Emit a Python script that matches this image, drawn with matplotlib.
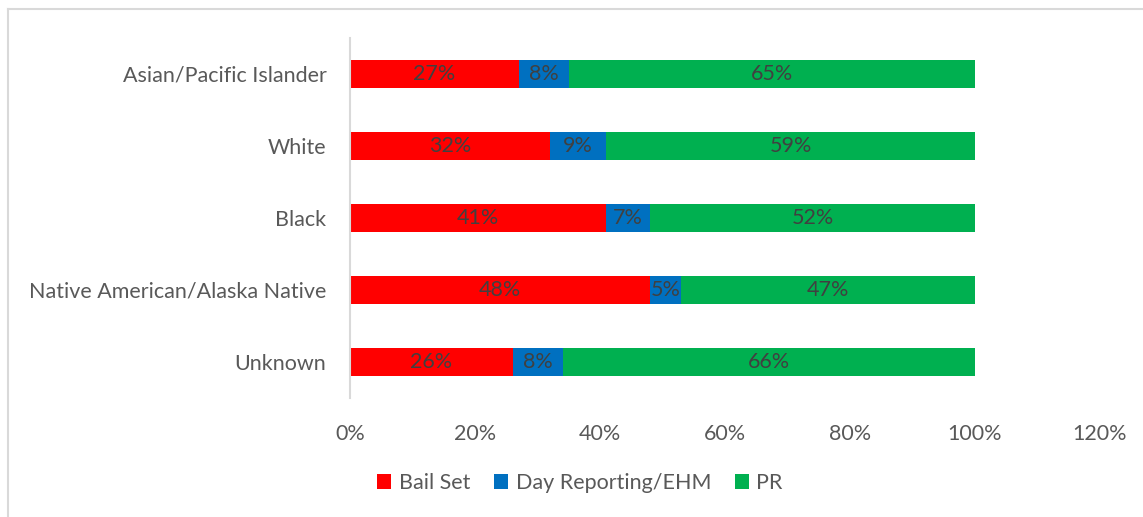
import matplotlib
matplotlib.use("Agg")
import matplotlib.pyplot as plt
from matplotlib.lines import Line2D
import numpy as np

categories = ["Asian/Pacific Islander", "White", "Black",
              "Native American/Alaska Native", "Unknown"]
bail_set = [27, 32, 41, 48, 26]
day_reporting = [8, 9, 7, 5, 8]
pr = [65, 59, 52, 47, 66]
series_names = ["Bail Set", "Day Reporting/EHM", "PR"]
colors = ["#FF0000", "#0070C0", "#00B050"]
x_ticks = [0, 20, 40, 60, 80, 100, 120]

plt.rcParams["font.family"] = ["Lato", "DejaVu Sans"]
FS = 15.5

fig = plt.figure(figsize=(11.43, 5.17), dpi=100)
W, H = 1143, 517
ax = fig.add_axes([350 / W, 1 - 398 / H, 750 / W, 360 / H])

y = np.arange(len(categories))[::-1]
left = np.zeros(len(categories))
for name, vals, col in zip(series_names, [bail_set, day_reporting, pr], colors):
    vals = np.array(vals, dtype=float)
    ax.barh(y, vals, left=left, height=0.39, color=col, label=name)
    for yi, l, v in zip(y, left, vals):
        ax.text(l + v / 2, yi, f"{v:.0f}%", ha="center", va="center",
                fontsize=FS, color="#404040")
    left += vals

ax.set_xlim(0, 120)
ax.set_ylim(-0.5, len(categories) - 0.5)
ax.set_yticks(y)
ax.set_yticklabels(categories, fontsize=FS, color="#595959")
ax.set_xticks(x_ticks)
ax.set_xticklabels([f"{t}%" for t in x_ticks], fontsize=FS, color="#595959")
ax.tick_params(axis="both", length=0)
ax.tick_params(axis="y", pad=17)
ax.tick_params(axis="x", pad=19)
for s in ["top", "right", "bottom"]:
    ax.spines[s].set_visible(False)
ax.spines["left"].set_color("#D9D9D9")
ax.spines["left"].set_linewidth(1.5)

ax.legend(loc="center", bbox_to_anchor=(580 / W, 1 - 483 / H),
          bbox_transform=fig.transFigure, ncol=3, frameon=False,
          fontsize=FS, handlelength=0.65, handleheight=0.65,
          columnspacing=1.1, handletextpad=0.35, labelcolor="#595959")

# chart frame
fig.add_artist(Line2D([7.5 / W, 7.5 / W], [0, 1 - 8.5 / H],
                      transform=fig.transFigure, color="#D9D9D9", lw=1.5))
fig.add_artist(Line2D([7.5 / W, 1], [1 - 8.5 / H, 1 - 8.5 / H],
                      transform=fig.transFigure, color="#D9D9D9", lw=1.5))

fig.savefig("out.png", dpi=100)
